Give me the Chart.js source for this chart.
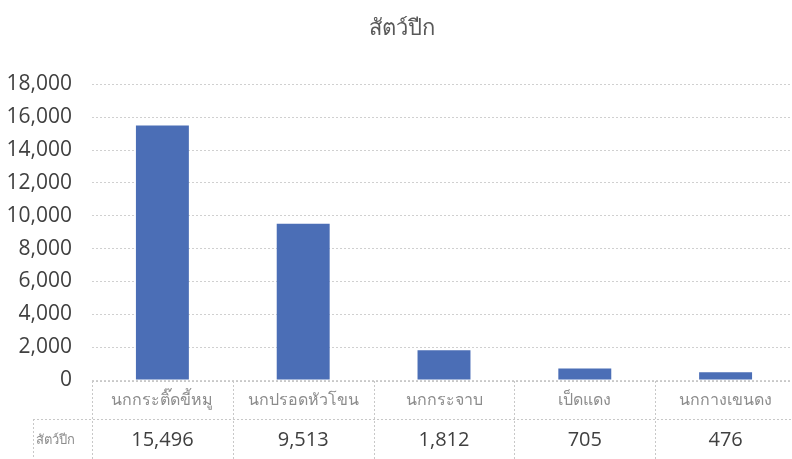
<!DOCTYPE html>
<html>
<head>
<meta charset="utf-8">
<script src="https://cdn.jsdelivr.net/npm/chart.js@4.4.1/dist/chart.umd.min.js"></script>
<style>
  html, body { margin: 0; padding: 0; background: #fff; overflow: hidden; }
  #wrap { width: 800px; height: 459px; }
</style>
</head>
<body>
<div id="wrap"><canvas id="birds"></canvas></div>
<script>
const categories = ["นกกระติ๊ดขี้หมู", "นกปรอดหัวโขน", "นกกระจาบ", "เป็ดแดง", "นกกางเขนดง"];
const seriesName = "สัตว์ปีก";
const counts = [15496, 9513, 1812, 705, 476];
const yTicks = [0, 2000, 4000, 6000, 8000, 10000, 12000, 14000, 16000, 18000];

const FONT = "'Open Sans', 'Noto Sans', 'Noto Sans CJK SC', sans-serif";
const fmt = v => v.toLocaleString("en-US");

// data table drawn under the plot, one column per category
const dataTable = {
  id: "dataTable",
  afterDraw(chart) {
    const { ctx, chartArea, scales } = chart;
    const x = scales.x;
    const colW = x.getPixelForValue(1) - x.getPixelForValue(0);
    const top = chartArea.bottom + 1;
    const mid = top + 38;
    const bottom = mid + 44;
    const headLeft = 33;

    ctx.save();
    ctx.strokeStyle = "#c8c8c8";
    ctx.lineWidth = 1;
    ctx.setLineDash([2, 2]);
    ctx.beginPath();
    ctx.moveTo(chartArea.left, top + 0.5);
    ctx.lineTo(chartArea.right, top + 0.5);
    ctx.moveTo(headLeft, mid + 0.5);
    ctx.lineTo(chartArea.right, mid + 0.5);
    ctx.moveTo(headLeft + 0.5, mid);
    ctx.lineTo(headLeft + 0.5, bottom);
    for (let i = 0; i <= categories.length; i++) {
      const px = Math.round(x.getPixelForValue(i) - colW / 2) + 0.5;
      ctx.moveTo(px, top);
      ctx.lineTo(px, bottom);
    }
    ctx.stroke();
    ctx.setLineDash([]);

    ctx.textAlign = "center";
    ctx.textBaseline = "middle";
    categories.forEach((c, i) => {
      const cx = x.getPixelForValue(i);
      ctx.fillStyle = "#8c8c8c";
      ctx.font = "16px " + FONT;
      ctx.fillText(c, cx, top + 19);
      ctx.fillStyle = "#404040";
      ctx.font = "20px " + FONT;
      ctx.fillText(fmt(counts[i]), cx, mid + 21);
    });

    ctx.fillStyle = "#8c8c8c";
    ctx.font = "13px " + FONT;
    ctx.textAlign = "left";
    ctx.fillText(seriesName, headLeft + 3, mid + 21);
    ctx.restore();
  }
};

new Chart(document.getElementById("birds").getContext("2d"), {
  type: "bar",
  data: {
    labels: categories,
    datasets: [
      {
        label: seriesName,
        data: counts,
        backgroundColor: "#4b6eb6",
        categoryPercentage: 1,
        barPercentage: 0.376
      }
    ]
  },
  options: {
    responsive: true,
    maintainAspectRatio: false,
    animation: false,
    layout: { padding: { top: 0, left: 8, right: 4, bottom: 79 } },
    plugins: {
      legend: { display: false },
      tooltip: { enabled: false },
      title: {
        display: true,
        text: seriesName,
        color: "#595959",
        font: { family: FONT, size: 22, weight: "normal" },
        padding: { top: 16, bottom: 42 }
      }
    },
    scales: {
      x: { display: false },
      y: {
        min: 0,
        max: 18000,
        afterBuildTicks: axis => { axis.ticks = yTicks.map(v => ({ value: v })); },
        afterFit: axis => { axis.width = 84; },
        border: { display: false, dash: [2, 2] },
        grid: { color: "#d0d0d0", drawTicks: false },
        ticks: {
          padding: 20,
          color: "#404040",
          font: { family: FONT, size: 21 },
          callback: v => fmt(v)
        }
      }
    }
  },
  plugins: [dataTable]
});
</script>
</body>
</html>
